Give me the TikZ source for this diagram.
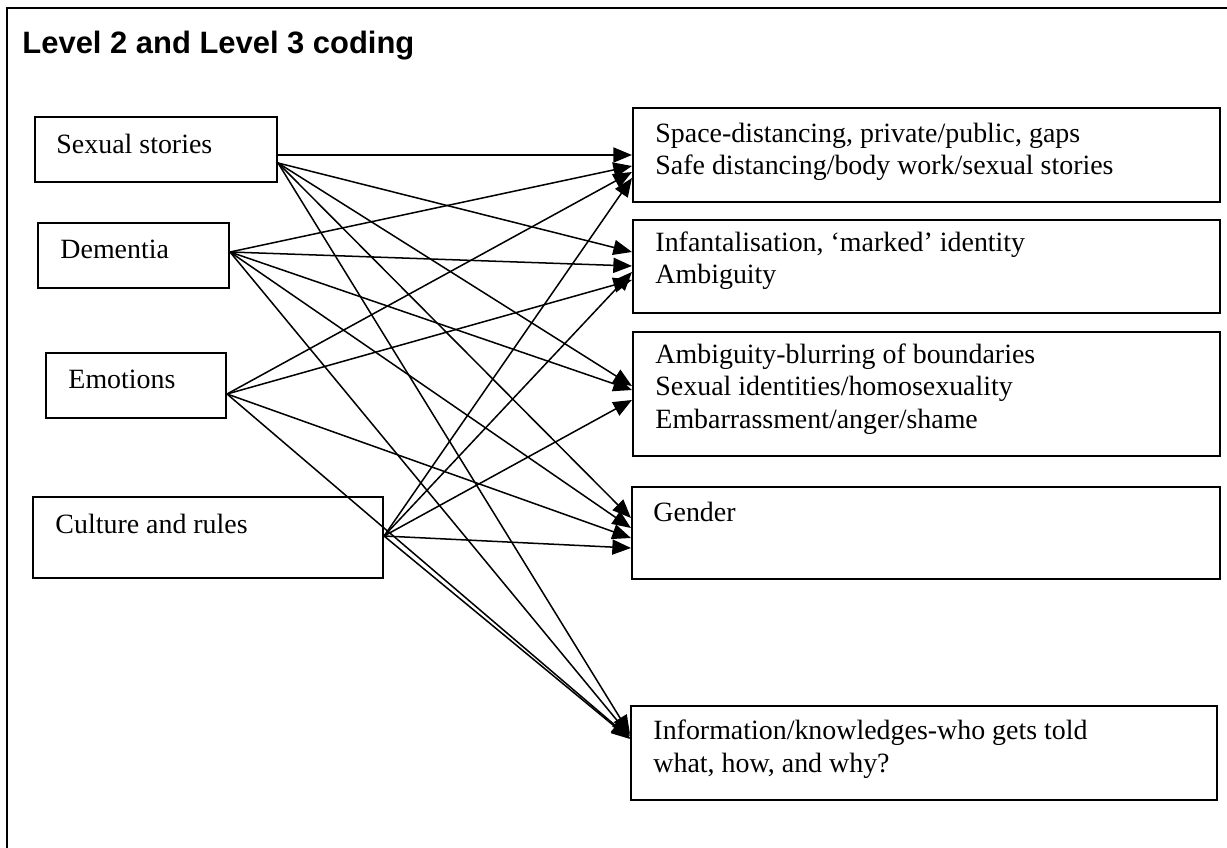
\documentclass[tikz,border=0pt]{standalone}
\usepackage{fontspec}
\setmainfont{Liberation Serif}
\newfontfamily\titlefont{Liberation Sans}
\usetikzlibrary{arrows.meta,fit,calc}

\begin{document}
\begin{tikzpicture}[x=0.43pt, y=-0.43pt, line join=miter, >={Triangle[length=8pt,width=6.5pt]},
	codebox/.style={draw, line width=0.9pt, rectangle, inner sep=0pt},
	lbl/.style={anchor=base west, inner sep=0pt, align=left, font=\fontsize{12}{13.8}\selectfont},
	link/.style={->, line width=0.65pt}]
	\useasboundingbox (0,0) rectangle (1227,848);
	% frame and title
	\draw[line width=1pt] (7,848) -- (7,8) -- (1227,8);
	\node[anchor=base west, inner sep=0pt, font=\titlefont\bfseries\fontsize{13.3}{16}\selectfont] (title) at (22,54) {Level 2 and Level 3 coding};
	% level 2 codes
	\node[codebox, fit={(35,117) (277,182)}] (ss) {};
	\node[codebox, fit={(38,223) (229,288)}] (dem) {};
	\node[codebox, fit={(46,353) (226,418)}] (emo) {};
	\node[codebox, fit={(33,497) (383,578)}] (cul) {};
	\node[lbl] (ssT) at (56,154) {Sexual stories};
	\node[lbl] (demT) at (60,259) {Dementia};
	\node[lbl] (emoT) at (68,389) {Emotions};
	\node[lbl] (culT) at (55,533) {Culture and rules};
	% level 3 codes (multi-line labels sit on their last baseline)
	\node[codebox, fit={(633,108) (1220,202)}] (r1) {};
	\node[codebox, fit={(633,220) (1220,313)}] (r2) {};
	\node[codebox, fit={(633,332) (1220,456)}] (r3) {};
	\node[codebox, fit={(632,487) (1220,579)}] (r4) {};
	\node[codebox, fit={(631,706) (1217,800)}] (r5) {};
	\node[lbl] (r1T) at (655,175) {Space-distancing, private/public, gaps\\Safe distancing/body work/sexual stories};
	\node[lbl] (r2T) at (655,284) {Infantalisation, `marked' identity\\Ambiguity};
	\node[lbl] (r3T) at (655,428) {Ambiguity-blurring of boundaries\\Sexual identities/homosexuality\\Embarrassment/anger/shame};
	\node[lbl] (r4T) at (653,521) {Gender};
	\node[lbl] (r5T) at (653,772) {Information/knowledges-who gets told\\what, how, and why?};
	% links
	\foreach \src/\sy/\dst/\ty in {ss/155/r1/155, ss/163/r2/252, ss/163/r3/386, ss/163/r4/518, ss/163/r5/734,
		dem/252/r1/166, dem/252/r2/266, dem/252/r3/390, dem/252/r4/528, dem/252/r5/736,
		emo/394/r1/172, emo/394/r2/280, emo/394/r4/538, emo/394/r5/738,
		cul/536/r1/178, cul/536/r2/272, cul/536/r3/400, cul/536/r4/548, cul/536/r5/739}
	\draw[link] (\src.east |- 0,\sy) -- (\dst.west |- 0,\ty);
\end{tikzpicture}
\end{document}
